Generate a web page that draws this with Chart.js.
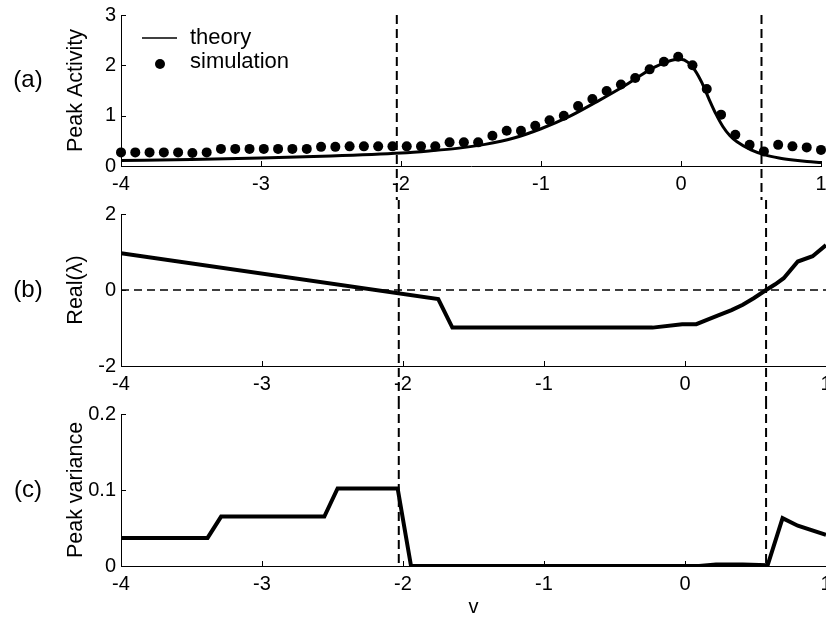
<!DOCTYPE html>
<html>
<head>
<meta charset="utf-8">
<script src="https://cdn.jsdelivr.net/npm/chart.js@4"></script>
<style>
  html, body { margin: 0; padding: 0; background: #fff; overflow: hidden; }
  #wrap { position: relative; width: 826px; height: 618px; }
  .panel { position: absolute; left: 0; width: 826px; }
</style>
</head>
<body>
<div id="wrap">
  <div class="panel" style="top:0;height:200px"><canvas id="chartA" width="826" height="200"></canvas></div>
  <div class="panel" style="top:200px;height:200px"><canvas id="chartB" width="826" height="200"></canvas></div>
  <div class="panel" style="top:400px;height:218px"><canvas id="chartC" width="826" height="218"></canvas></div>
</div>
<script>
// v where the vertical dashed markers sit
const criticalV = [-2.03, 0.575]

// (a) peak activity, theory curve
const theoryV = [-4, -3.5, -3, -2.5, -2, -1.8, -1.6, -1.4, -1.2, -1, -0.8, -0.6, -0.4, -0.3, -0.2, -0.1, -0.05, 0, 0.05, 0.1, 0.15, 0.2, 0.25, 0.3, 0.35, 0.4, 0.5, 0.6, 0.7, 0.8, 0.9, 1]
const theoryActivity = [0.11, 0.13, 0.16, 0.2, 0.26, 0.3, 0.35, 0.43, 0.55, 0.74, 0.98, 1.28, 1.6, 1.78, 1.95, 2.07, 2.11, 2.12, 2.06, 1.9, 1.65, 1.33, 1.03, 0.78, 0.6, 0.48, 0.32, 0.22, 0.16, 0.12, 0.09, 0.07]

// (a) peak activity, simulation dots
const simV = [-4, -3.898, -3.796, -3.694, -3.592, -3.49, -3.388, -3.286, -3.184, -3.082,
  -2.98, -2.878, -2.776, -2.673, -2.571, -2.469, -2.367, -2.265, -2.163, -2.061,
  -1.959, -1.857, -1.755, -1.653, -1.551, -1.449, -1.347, -1.245, -1.143, -1.041,
  -0.939, -0.837, -0.735, -0.633, -0.531, -0.429, -0.327, -0.224, -0.122, -0.02,
  0.082, 0.184, 0.286, 0.388, 0.49, 0.592, 0.694, 0.796, 0.898, 1]
const simActivity = [0.27, 0.27, 0.27, 0.27, 0.27, 0.26, 0.27, 0.34, 0.34, 0.34,
  0.34, 0.34, 0.34, 0.34, 0.38, 0.38, 0.39, 0.39, 0.39, 0.39,
  0.39, 0.39, 0.39, 0.47, 0.47, 0.47, 0.6, 0.7, 0.7, 0.8,
  0.91, 1.0, 1.19, 1.33, 1.49, 1.62, 1.75, 1.92, 2.07, 2.17,
  2.0, 1.53, 1.02, 0.62, 0.42, 0.29, 0.42, 0.39, 0.37, 0.32]

// (b) real part of eigenvalue
const lambdaV = [-4, -1.75, -1.65, -0.23, -0.02, 0.08, 0.16, 0.24, 0.33, 0.41, 0.49, 0.575, 0.64, 0.7, 0.8, 0.905, 1]
const lambdaReal = [0.97, -0.24, -0.99, -0.99, -0.9, -0.9, -0.78, -0.66, -0.53, -0.39, -0.21, 0, 0.15, 0.31, 0.75, 0.89, 1.18]
const zeroLine = [-4, 1]

// (c) peak variance
const varV = [-4, -3.386, -3.29, -2.558, -2.464, -2.038, -1.943, 0.1, 0.22, 0.41, 0.586, 0.692, 0.8, 1]
const peakVariance = [0.037, 0.037, 0.065, 0.065, 0.102, 0.102, 0, 0, 0.002, 0.002, 0.001, 0.063, 0.053, 0.041]

const FONT = "'Liberation Sans', Arial, Helvetica, sans-serif"
Chart.defaults.font.family = FONT
Chart.defaults.color = '#000'

function pts(xs, ys) {
  return xs.map((v, i) => ({ x: v, y: ys[i] }))
}

// inward ticks, dashed markers, panel letter, optional legend
const decor = {
  id: 'decor',
  afterDraw(chart, args, opts) {
    const { ctx, chartArea: a } = chart
    const x = chart.scales.x, y = chart.scales.y
    ctx.save()
    ctx.strokeStyle = '#000'
    ctx.lineWidth = 1
    ctx.beginPath()
    x.ticks.forEach(t => {
      const px = Math.round(x.getPixelForValue(t.value)) + 0.5
      ctx.moveTo(px, a.bottom)
      ctx.lineTo(px, a.bottom - 5)
    })
    y.ticks.forEach(t => {
      const py = Math.round(y.getPixelForValue(t.value)) + 0.5
      ctx.moveTo(a.left, py)
      ctx.lineTo(a.left + 5, py)
    })
    ctx.stroke()

    ctx.lineWidth = 2
    ctx.setLineDash([9, 5])
    ctx.beginPath()
    criticalV.forEach(v => {
      const px = x.getPixelForValue(v)
      ctx.moveTo(px, opts.lineTop)
      ctx.lineTo(px, opts.lineBottom)
    })
    ctx.stroke()
    ctx.setLineDash([])

    ctx.fillStyle = '#000'
    ctx.font = '24px ' + FONT
    ctx.textAlign = 'center'
    ctx.textBaseline = 'middle'
    ctx.fillText(opts.label, 28, opts.labelY)

    if (opts.legend) {
      ctx.font = '22px ' + FONT
      ctx.textAlign = 'left'
      ctx.lineWidth = 1.7
      ctx.beginPath()
      ctx.moveTo(142, 38)
      ctx.lineTo(177, 38)
      ctx.stroke()
      ctx.fillText(chart.data.datasets[0].label, 190, 38)
      ctx.beginPath()
      ctx.arc(160, 64, 5, 0, Math.PI * 2)
      ctx.fill()
      ctx.fillText(chart.data.datasets[1].label, 190, 62)
    }
    ctx.restore()
  }
}

function panelOptions(cfg) {
  return {
    responsive: false,
    animation: false,
    events: [],
    layout: { padding: { top: cfg.top, right: 0, bottom: 0, left: 0 } },
    plugins: {
      legend: { display: false },
      tooltip: { enabled: false },
      decor: cfg.decor
    },
    scales: {
      x: {
        type: 'linear',
        min: -4,
        max: 1,
        grid: { display: false, drawTicks: false, tickLength: 0 },
        border: { display: true, color: '#000', width: 1 },
        ticks: { stepSize: 1, padding: 6, font: { size: 20 }, color: '#000' },
        title: cfg.xTitle ? { display: true, text: cfg.xTitle, font: { size: 20, lineHeight: 1 }, padding: { top: 0, bottom: 1 }, color: '#000' } : { display: false },
        afterFit(s) {
          s.height = cfg.xHeight
          s.paddingLeft = 0
          s.paddingRight = 0
        }
      },
      y: {
        min: cfg.yMin,
        max: cfg.yMax,
        grid: { display: false, drawTicks: false, tickLength: 0 },
        border: { display: true, color: '#000', width: 1 },
        ticks: { stepSize: cfg.yStep, padding: 5, font: { size: 20 }, color: '#000' },
        title: { display: true, text: cfg.yTitle, font: { size: 21.5 }, padding: { top: 63, bottom: 0 }, color: '#000' },
        afterFit(s) {
          s.width = 121
          s.paddingTop = 0
          s.paddingBottom = 0
        }
      }
    }
  }
}

new Chart(document.getElementById('chartA'), {
  type: 'line',
  data: {
    datasets: [{
      label: 'theory',
      data: pts(theoryV, theoryActivity),
      borderColor: '#000',
      borderWidth: 3,
      pointRadius: 0,
      cubicInterpolationMode: 'monotone'
    }, {
      label: 'simulation',
      data: pts(simV, simActivity),
      showLine: false,
      pointRadius: 5,
      pointBackgroundColor: '#000',
      pointBorderWidth: 0,
      clip: false
    }]
  },
  options: panelOptions({
    top: 15, xHeight: 34, yMin: 0, yMax: 3, yStep: 1, yTitle: 'Peak Activity',
    decor: { label: '(a)', labelY: 80, lineTop: 15, lineBottom: 200, legend: true }
  }),
  plugins: [decor]
})

new Chart(document.getElementById('chartB'), {
  type: 'line',
  data: {
    datasets: [{
      label: 'Real(λ)',
      data: pts(lambdaV, lambdaReal),
      borderColor: '#000',
      borderWidth: 4,
      pointRadius: 0,
      tension: 0
    }, {
      label: 'zero',
      data: pts(zeroLine, [0, 0]),
      borderColor: '#000',
      borderWidth: 1.5,
      borderDash: [8, 5],
      pointRadius: 0
    }]
  },
  options: panelOptions({
    top: 14, xHeight: 34, yMin: -2, yMax: 2, yStep: 2, yTitle: 'Real(λ)',
    decor: { label: '(b)', labelY: 90, lineTop: 0, lineBottom: 200 }
  }),
  plugins: [decor]
})

new Chart(document.getElementById('chartC'), {
  type: 'line',
  data: {
    datasets: [{
      label: 'Peak variance',
      data: pts(varV, peakVariance),
      borderColor: '#000',
      borderWidth: 4,
      pointRadius: 0,
      tension: 0
    }]
  },
  options: panelOptions({
    top: 14, xHeight: 52, yMin: 0, yMax: 0.2, yStep: 0.1, yTitle: 'Peak variance', xTitle: 'v',
    decor: { label: '(c)', labelY: 90, lineTop: 0, lineBottom: 166 }
  }),
  plugins: [decor]
})
</script>
</body>
</html>
